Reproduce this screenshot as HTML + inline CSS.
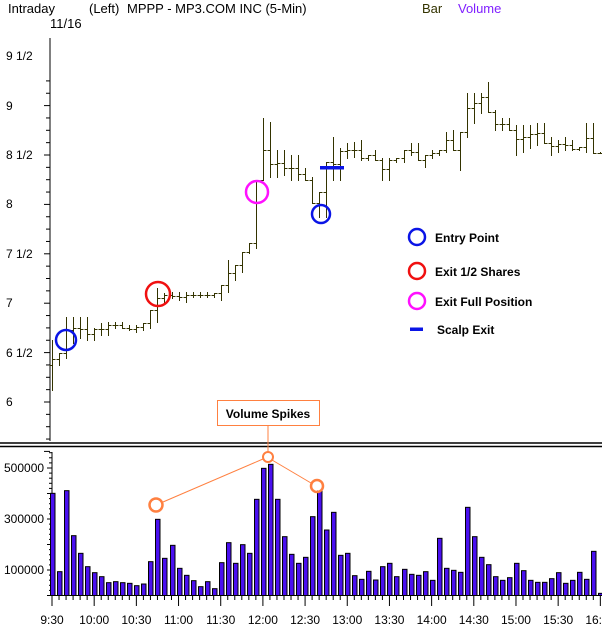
<!DOCTYPE html>
<html><head><meta charset="utf-8"><style>
html,body{margin:0;padding:0;background:#fff;width:602px;height:627px;overflow:hidden}
svg{display:block;font-family:"Liberation Sans",sans-serif}
</style></head><body>
<svg id="s" width="602" height="627" xmlns="http://www.w3.org/2000/svg">
<text x="8" y="13" font-size="13">Intraday</text>
<text x="89" y="13" font-size="13">(Left)</text>
<text x="127" y="13" font-size="13">MPPP - MP3.COM INC  (5-Min)</text>
<text x="422" y="13" font-size="13" fill="#333300">Bar</text>
<text x="458" y="13" font-size="13" fill="#8020ff">Volume</text>
<text x="50" y="28" font-size="13">11/16</text>
<line x1="50" y1="38" x2="50" y2="441" stroke="#000"/>
<line x1="0" y1="443" x2="602" y2="443" stroke="#000" stroke-width="1.5"/>
<line x1="0" y1="446.5" x2="602" y2="446.5" stroke="#000" stroke-width="1.5"/>
<line x1="52" y1="452" x2="52" y2="596" stroke="#000"/>
<line x1="52" y1="595.5" x2="602" y2="595.5" stroke="#000"/>
<g id="g"></g>
<g font-size="12" text-anchor="start">
<text x="6" y="60">9 1/2</text><text x="6" y="110">9</text><text x="6" y="159">8 1/2</text>
<text x="6" y="208">8</text><text x="6" y="258">7 1/2</text><text x="6" y="307">7</text>
<text x="6" y="357">6 1/2</text><text x="6" y="406">6</text>
<text x="4" y="472">500000</text><text x="4" y="523">300000</text><text x="4" y="574">100000</text>
</g>
<circle cx="66" cy="340" r="10" fill="none" stroke="#0a14e6" stroke-width="2.5"/>
<circle cx="158" cy="294" r="12" fill="none" stroke="#f01010" stroke-width="2.5"/>
<circle cx="257" cy="192" r="11" fill="none" stroke="#ff10ff" stroke-width="2.5"/>
<circle cx="321" cy="214" r="9" fill="none" stroke="#0a14e6" stroke-width="2.5"/>
<rect x="320" y="166" width="24" height="3.5" fill="#0a14e6"/>
<circle cx="417" cy="237" r="8" fill="none" stroke="#0a14e6" stroke-width="2.5"/>
<circle cx="417" cy="271" r="8" fill="none" stroke="#f01010" stroke-width="2.5"/>
<circle cx="417" cy="301" r="8" fill="none" stroke="#ff10ff" stroke-width="2.5"/>
<rect x="410" y="327.5" width="13" height="3.5" fill="#0a14e6"/>
<g font-size="12" font-weight="bold">
<text x="435" y="242">Entry Point</text><text x="435" y="276">Exit 1/2 Shares</text>
<text x="435" y="306">Exit Full Position</text><text x="437" y="334">Scalp Exit</text>
</g>
<rect x="217.5" y="400.5" width="102" height="25" fill="#fff" stroke="#ff8040"/>
<text x="268" y="418" font-size="12" font-weight="bold" text-anchor="middle">Volume Spikes</text>
<line x1="268" y1="426" x2="268" y2="452" stroke="#ff8040"/>
<line x1="163" y1="502" x2="263" y2="459" stroke="#ff8040"/>
<line x1="272" y1="460" x2="311" y2="483" stroke="#ff8040"/>
<g id="gv"></g>
</svg>
<script>
var NS="http://www.w3.org/2000/svg",g=document.getElementById('g'),gv=document.getElementById('gv');
function el(t,a,p){var e=document.createElementNS(NS,t);for(var k in a)e.setAttribute(k,a[k]);(p||g).appendChild(e);return e;}
// price axis ticks
for(var k=0;k<=30;k++){var y=402-k*98.8/8+98.8*0;var yy=402+98.8/8*4-k*98.8/8; if(yy<40)break; var maj=(k%4==0);el('line',{x1:maj?44:46,y1:yy,x2:50,y2:yy,stroke:'#000'});}
// volume axis ticks
for(var v=0;v<=560000;v+=20000){var y=595.5-v/100000*25.5;if(y<452)break;el('line',{x1:(v%100000==0)?47:49,y1:y,x2:52,y2:y,stroke:'#000'});}
// x axis
var lab=['9:30','10:00','10:30','11:00','11:30','12:00','12:30','13:00','13:30','14:00','14:30','15:00','15:30','16:00'];
for(var i=0;i<=78;i++){var x=52+7.03*i;var maj=(i%6==0);el('line',{x1:x,y1:595.5,x2:x,y2:maj?606:600,stroke:'#000'});
 if(maj){var t=el('text',{x:x,y:624,'font-size':12,'text-anchor':'middle'});t.textContent=lab[i/6];}}
// price bars [high,low]
var P=[[340,390],[353,365],[317,358],[317,343],[317,338],[317,340],[328,340],[323,335],[322,335],[322,328],[322,328],[325,330],[325,332],[323,330],[310,328],[288,322],[293,303],[292,298],[292,300],[292,302],[292,297],[292,297],[292,297],[293,297],[285,300],[260,292],[265,280],[252,272],[243,253],[180,248],
[118,180],[122,177],[150,177],[150,175],[155,180],[155,180],[168,180],[177,203],[192,217],[162,217],[137,180],[148,180],[143,158],[142,157],[140,160],[155,160],[150,160],[158,180],[158,180],[158,162],[150,162],[143,155],[143,160],[155,167],[150,158],[150,155],[132,152],[130,150],[132,170],[93,137],[93,123],[93,113],[82,112],[110,130],[118,130],[118,130],[125,155],[125,152],[125,148],[123,145],[123,143],[137,155],[140,152],[137,150],[140,150],[147,150],[123,152],[123,153],[152,153]];
var prev=P[0][0]+25;
for(var i=0;i<P.length;i++){var x=Math.round(52+7.03*i)+0.5,h=P[i][0],l=P[i][1];
 var nx=(i+1<P.length)?(P[i+1][0]+P[i+1][1])/2:(h+l)/2;
 var o=Math.min(Math.max(prev,h),l),c=Math.min(Math.max(nx,h),l);
 el('line',{x1:x,y1:h,x2:x,y2:l+1,stroke:'#333300'});
 el('line',{x1:x-3,y1:Math.round(o)+0.5,x2:x,y2:Math.round(o)+0.5,stroke:'#333300'});
 el('line',{x1:x,y1:Math.round(c)+0.5,x2:x+3,y2:Math.round(c)+0.5,stroke:'#333300'});
 prev=c;}
// volume
var V=[160,395,152,287,340,380,398,410,428,425,428,430,437,432,365,238,355,316,385,406,422,440,425,446,368,308,370,314,340,178,85,73,178,290,343,370,352,230,153,270,217,346,340,407,418,394,420,380,370,410,388,403,406,395,421,295,385,391,397,202,290,352,374,410,421,413,370,392,421,427,427,416,398,430,421,397,418,334,460];
for(var i=0;i<V.length;i++){var x=Math.round(52+7.03*i)-2,y=440+V[i]/3;
 el('rect',{x:x+0.5,y:y,width:4.5,height:595.5-y,fill:'#4a10f0',stroke:'#000','stroke-width':1},g);}
el('circle',{cx:156,cy:505,r:6.5,fill:'none',stroke:'#ff8040','stroke-width':2.5},gv);
el('circle',{cx:268,cy:457,r:5,fill:'#fff',stroke:'#ff8040','stroke-width':2},gv);
el('circle',{cx:317,cy:486,r:6,fill:'none',stroke:'#ff8040','stroke-width':2.5},gv);
</script>
</body></html>
